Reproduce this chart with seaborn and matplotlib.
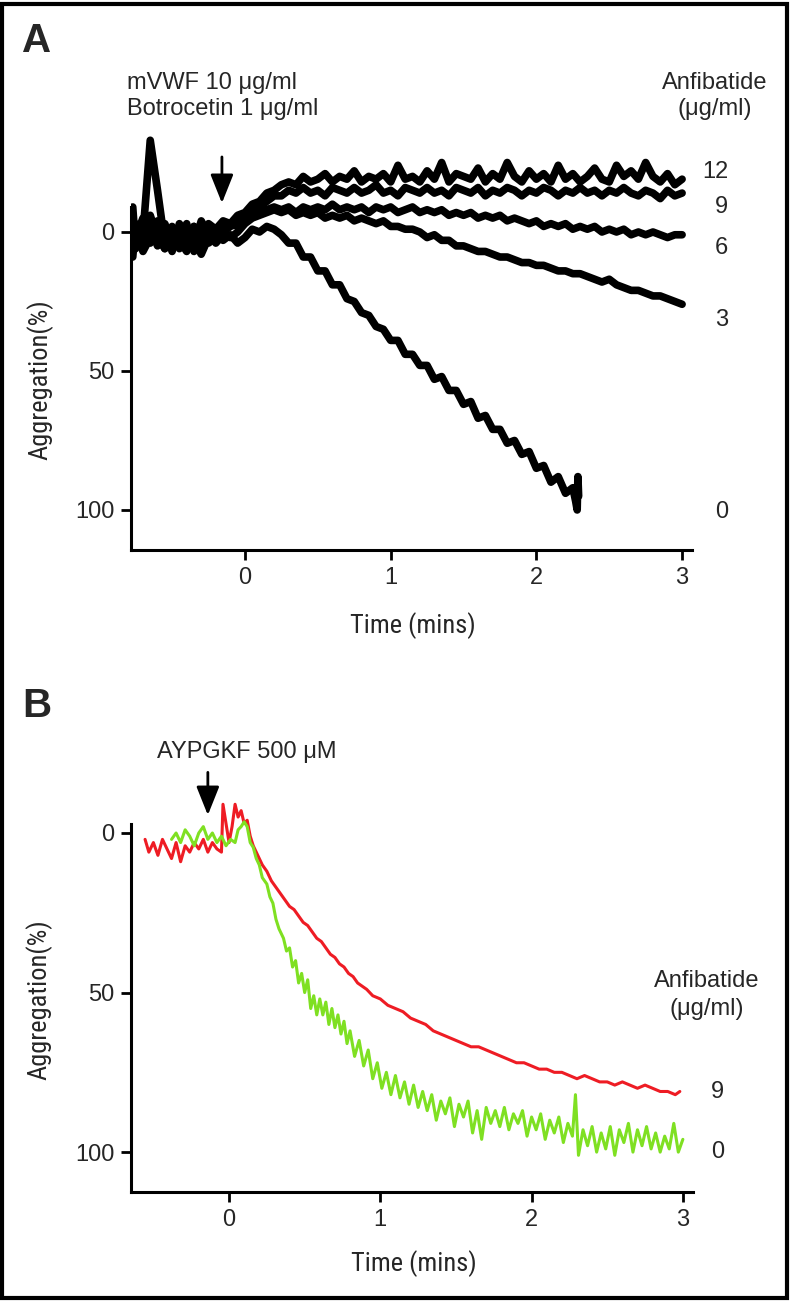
import pandas as pd
import seaborn as sns
import matplotlib
matplotlib.use("Agg")
from matplotlib import pyplot as plt
from matplotlib.patches import Rectangle

W, H = 791, 1302

# ---------- panel A : mVWF + botrocetin, black traces ----------
t_a = [-0.77, -0.75, -0.70, -0.65, -0.60, -0.55, -0.50, -0.45, -0.40, -0.35, -0.30,
       -0.25, -0.20, -0.15, -0.10, -0.05, 0.00, 0.05, 0.10, 0.15, 0.20,
       0.25, 0.30, 0.35, 0.40, 0.45, 0.50, 0.55, 0.60, 0.65, 0.70,
       0.75, 0.80, 0.85, 0.90, 0.95, 1.00, 1.05, 1.10, 1.15, 1.20,
       1.25, 1.30, 1.35, 1.40, 1.45, 1.50, 1.55, 1.60, 1.65, 1.70,
       1.75, 1.80, 1.85, 1.90, 1.95, 2.00, 2.05, 2.10, 2.15, 2.20,
       2.25, 2.30, 2.35, 2.40, 2.45, 2.50, 2.55, 2.60, 2.65, 2.70,
       2.75, 2.80, 2.85, 2.90, 2.95, 3.00]

a_12 = [-9, 6, -4, -2, 5, -3, 4, -1, 6, -2, 3, -3, -1, -4, -3, -6, -7, -10, -11, -14, -15,
        -17, -18, -17, -20, -18, -19, -21, -18, -20, -19,
        -22, -18, -20, -19, -21, -18, -24, -19, -20, -18,
        -22, -19, -25, -18, -21, -20, -19, -23, -18, -21,
        -19, -25, -20, -18, -22, -19, -21, -18, -24, -19,
        -21, -18, -20, -23, -19, -18, -24, -20, -22, -19,
        -25, -20, -18, -21, -17, -19]
a_9 = [9, -3, 7, 2, -4, 6, 0, 5, -3, 7, 1, 4, 2, 0, -2, -3, -5, -7, -9, -11, -13,
       -13, -15, -14, -16, -14, -15, -13, -16, -15, -14,
       -16, -14, -15, -17, -14, -15, -13, -16, -15, -14,
       -16, -14, -15, -13, -16, -15, -14, -16, -13, -15,
       -14, -16, -15, -13, -15, -14, -16, -15, -13, -15,
       -14, -16, -14, -15, -13, -15, -14, -16, -14, -13,
       -15, -14, -12, -15, -13, -14]
a_6 = [0, 2, -5, 4, 1, -2, 7, -3, 2, 5, -4, 1, 3, -1, -3, -2, -4, -6, -7, -8, -9,
       -8, -9, -7, -9, -8, -9, -8, -10, -8, -9,
       -8, -9, -7, -9, -8, -9, -7, -8, -9, -7,
       -8, -7, -8, -6, -7, -6, -7, -5, -6, -5,
       -6, -4, -5, -4, -3, -4, -2, -3, -2, -3,
       -1, -2, -1, -2, 0, -1, 0, -1, 1, 0,
       1, 0, 1, 2, 1, 1]
a_3 = [5, -2, 3, -6, 2, 6, -1, 3, 7, -2, 4, 0, 4, 1, 2, 0, -3, -5, -6, -7, -8,
       -7, -8, -6, -7, -6, -7, -5, -6, -5, -6,
       -4, -5, -4, -3, -4, -2, -2, -1, -1, 0,
       2, 1, 3, 3, 5, 5, 6, 7, 7, 8,
       9, 9, 10, 11, 11, 12, 12, 13, 14, 14,
       15, 15, 16, 17, 18, 17, 19, 20, 21, 21,
       22, 23, 23, 24, 25, 26]
# trace without Anfibatide stops at ~2.3 min
a_0 = [-5, 5, 1, -33, -15, 4, -2, 6, 0, 3, 8, 2, -1, 3, 1, 4, 2, -1, 0, -2, -1,
       1, 4, 4, 9, 9, 14, 14, 19, 19, 24,
       25, 29, 30, 34, 35, 39, 39, 44, 44, 48,
       48, 53, 52, 57, 57, 62, 61, 67, 66, 71,
       71, 76, 75, 80, 79, 85, 84, 90, 88, 94,
       92]
a_0_end_t = [2.27, 2.28, 2.285, 2.29]
a_0_end_v = [97, 100, 88, 95]

doses_a = ["12", "9", "6", "3", "0"]

# ---------- panel B : AYPGKF ----------
red_t = [-0.555, -0.53, -0.50, -0.47, -0.44, -0.41, -0.38, -0.35, -0.32, -0.29,
         -0.26, -0.23, -0.20, -0.17, -0.14, -0.11, -0.08, -0.05, -0.04, -0.02,
         0.00, 0.02, 0.04, 0.06, 0.08, 0.10, 0.12, 0.14, 0.16, 0.18,
         0.20, 0.22, 0.25, 0.28, 0.31, 0.34, 0.37, 0.40, 0.43, 0.46,
         0.49, 0.52, 0.55, 0.58, 0.61, 0.64, 0.67, 0.70, 0.73, 0.76,
         0.79, 0.82, 0.85, 0.88, 0.91, 0.95, 1.00, 1.05, 1.10, 1.15,
         1.20, 1.25, 1.30, 1.35, 1.40, 1.45, 1.50, 1.55, 1.60, 1.65,
         1.70, 1.75, 1.80, 1.85, 1.90, 1.95, 2.00, 2.05, 2.10, 2.15,
         2.20, 2.25, 2.30, 2.35, 2.40, 2.45, 2.50, 2.55, 2.60, 2.65,
         2.70, 2.75, 2.80, 2.85, 2.90, 2.95, 2.98]
red_v = [2, 6, 3, 7, 2, 5, 8, 3, 9, 4,
         6, 3, 5, 2, 6, 3, 5, 6, -9, -3,
         3, -2, -9, -5, -7, -3, -4, 1, 4, 6,
         8, 10, 12, 15, 17, 19, 21, 23, 24, 26,
         28, 29, 31, 33, 34, 36, 38, 39, 41, 42,
         44, 45, 47, 48, 49, 51, 52, 54, 55, 56,
         58, 59, 60, 62, 63, 64, 65, 66, 67, 67,
         68, 69, 70, 71, 72, 72, 73, 74, 74, 75,
         75, 76, 77, 76, 77, 78, 78, 79, 78, 79,
         80, 79, 80, 81, 81, 82, 81]

green_t = [-0.38, -0.35, -0.32, -0.29, -0.26, -0.23, -0.20, -0.17, -0.14, -0.11,
           -0.08, -0.05, -0.02, 0.01, 0.04, 0.06, 0.08, 0.10, 0.12, 0.14,
           0.16, 0.18, 0.20, 0.22, 0.25, 0.27, 0.29, 0.31, 0.33, 0.36,
           0.38, 0.40, 0.42, 0.44, 0.46, 0.48, 0.50, 0.52, 0.54, 0.56,
           0.58, 0.60, 0.62, 0.64, 0.66, 0.68, 0.70, 0.72, 0.74, 0.76,
           0.78, 0.80, 0.83, 0.86, 0.89, 0.92, 0.95, 0.98, 1.01, 1.04,
           1.07, 1.10, 1.13, 1.16, 1.19, 1.22, 1.25, 1.28, 1.31, 1.34,
           1.37, 1.40, 1.43, 1.46, 1.49, 1.52, 1.55, 1.58, 1.61, 1.64,
           1.67, 1.70, 1.73, 1.76, 1.79, 1.82, 1.85, 1.88, 1.91, 1.94,
           1.97, 2.00, 2.03, 2.06, 2.09, 2.12, 2.15, 2.18, 2.21, 2.24,
           2.27, 2.29, 2.31, 2.34, 2.37, 2.40, 2.43, 2.46, 2.49, 2.52,
           2.55, 2.58, 2.61, 2.64, 2.67, 2.70, 2.73, 2.76, 2.79, 2.82,
           2.85, 2.88, 2.91, 2.94, 2.97, 3.00]
green_v = [2, 0, 3, -1, 1, 4, 0, -2, 2, 0,
           3, 1, 4, 2, 3, -1, -2, -3.5, -2, 3,
           4.5, 8, 10, 14, 16, 20, 22, 27, 30, 33,
           37, 36, 42, 40, 47, 44, 50, 46, 55, 51,
           57, 52, 57, 53, 60, 55, 61, 57, 63, 59,
           66, 62, 70, 65, 73, 68, 77, 72, 80, 75,
           82, 76, 83, 78, 85, 79, 86, 81, 87, 82,
           90, 84, 88, 83, 92, 85, 89, 84, 94, 87,
           96, 86, 91, 87, 92, 86, 93, 88, 91, 87,
           95, 89, 93, 88, 96, 90, 94, 89, 97, 91,
           95, 82, 101, 93, 98, 92, 100, 94, 99, 92,
           101, 93, 97, 91, 100, 93, 98, 92, 99, 94,
           100, 95, 99, 91, 100, 96]

# ---------- long tables ----------
rows = []
for dose, vals in zip(doses_a, [a_12, a_9, a_6, a_3, a_0]):
    ts = t_a[:len(vals)]
    if dose == "0":
        ts = ts + a_0_end_t
        vals = vals + a_0_end_v
    rows += [(dose, t, v) for t, v in zip(ts, vals)]
df_a = pd.DataFrame(rows, columns=["Dose", "Time", "Aggregation"])

df_b = pd.concat([
    pd.DataFrame({"Dose": "9", "Time": red_t, "Aggregation": red_v}),
    pd.DataFrame({"Dose": "0", "Time": green_t, "Aggregation": green_v}),
])

# ---------- style ----------
sns.set_style("ticks")
plt.rcParams['font.family'] = ['Liberation Sans', 'DejaVu Sans']
narrow = ['Liberation Sans Narrow', 'Roboto Condensed', 'DejaVu Sans']

fig = plt.figure(figsize=(W / 100, H / 100), dpi=100)
ax_a = fig.add_axes([131 / W, 1 - 550 / H, 561 / W, 415.3 / H])
ax_b = fig.add_axes([131 / W, 1 - 1192 / H, 562 / W, 397.3 / H])

sns.lineplot(data=df_a, x="Time", y="Aggregation", hue="Dose",
             palette={d: "black" for d in doses_a}, estimator=None, sort=False,
             legend=False, lw=5.5, ax=ax_a)
sns.lineplot(data=df_b, x="Time", y="Aggregation", hue="Dose",
             palette={"9": "#EE1C24", "0": "#7FE022"}, estimator=None, sort=False,
             legend=False, lw=2.2, ax=ax_b)

for ax, xlim, ylim, top in [(ax_a, (-0.782, 3.068), (114.4, -35), -9),
                            (ax_b, (-0.648, 3.067), (112.5, -12), -2.8)]:
    ax.set_xlim(*xlim)
    ax.set_ylim(*ylim)
    ax.set_xticks([0, 1, 2, 3])
    ax.set_yticks([0, 50, 100])
    sns.despine(ax=ax)
    ax.spines['left'].set_bounds(top, ylim[0])
    for s in ['left', 'bottom']:
        ax.spines[s].set_linewidth(2.2)
        ax.spines[s].set_color('black')
    ax.tick_params(labelsize=17, length=7, width=2, pad=5, color='black')
    ax.set_xlabel("Time (mins)", family=narrow, stretch='condensed', fontsize=19, va='top')
    ax.set_ylabel("Aggregation(%)", family=narrow, stretch='condensed', fontsize=19)

ax_a.xaxis.set_label_coords(0.503, -0.149)
ax_b.xaxis.set_label_coords(0.503, -0.146)
ax_a.yaxis.set_label_coords(-0.139, 0.41)
ax_b.yaxis.set_label_coords(-0.139, 0.484)

# arrows marking agonist addition
arrow_kw = dict(arrowstyle="-|>,head_length=0.55,head_width=0.22", color="black",
                lw=2, mutation_scale=32, shrinkA=0, shrinkB=0)
ax_a.annotate("", xy=(-0.158, -10.4), xytext=(-0.158, -27),
              arrowprops=arrow_kw, annotation_clip=False)
ax_b.annotate("", xy=(-0.14, -5.6), xytext=(-0.14, -19),
              arrowprops=arrow_kw, annotation_clip=False)


def ftext(x, y, s, **kw):
    kw.setdefault('fontsize', 17)
    kw.setdefault('va', 'baseline')
    fig.text(x / W, 1 - y / H, s, **kw)


ftext(22, 52, "A", fontsize=29, weight='bold')
ftext(22, 717, "B", fontsize=29, weight='bold')

ftext(127, 89, "mVWF 10 μg/ml")
ftext(127, 115, "Botrocetin 1 μg/ml")
ftext(157, 758, "AYPGKF 500 μM")

ftext(715, 89, "Anfibatide", ha='center')
ftext(715, 115, "(μg/ml)", ha='center')
for lab, y in [("12", 178), ("9", 213), ("6", 254), ("3", 326), ("0", 518)]:
    ftext(728, y, lab, ha='right')

ftext(707, 987, "Anfibatide", ha='center')
ftext(707, 1015, "(μg/ml)", ha='center')
for lab, y in [("9", 1098), ("0", 1158)]:
    ftext(724, y, lab, ha='right')

# outer frame
fig.patches.append(Rectangle((2 / W, 4 / H), 785 / W, 1294 / H, transform=fig.transFigure,
                             fill=False, edgecolor='black', lw=3))

plt.savefig("out.png", dpi=100)
